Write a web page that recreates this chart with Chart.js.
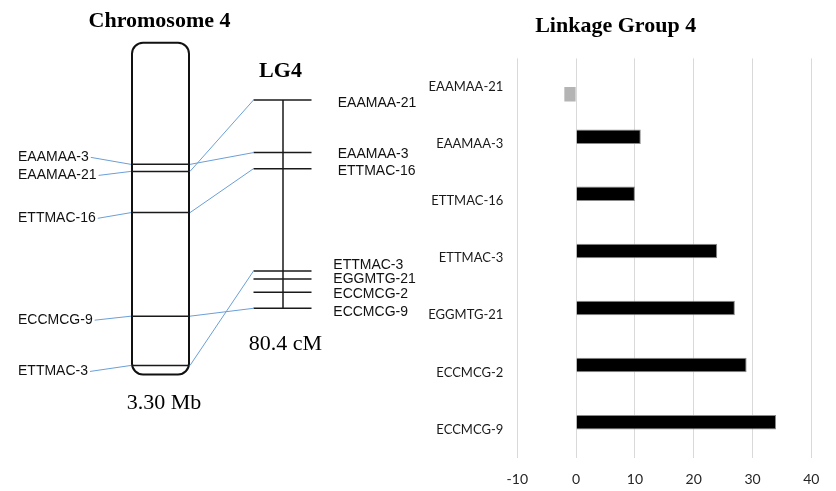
<!DOCTYPE html>
<html>
<head>
<meta charset="utf-8">
<script src="https://cdn.jsdelivr.net/npm/chart.js@4/dist/chart.umd.min.js"></script>
<style>
  html, body { margin: 0; padding: 0; background: #ffffff; }
  #wrap { position: relative; width: 836px; height: 491px; overflow: hidden; }
  canvas { position: absolute; top: 0; }
  #mapCanvas { left: 0; }
  #barCanvas { left: 420px; }
</style>
</head>
<body>
<div id="wrap">
  <canvas id="mapCanvas" width="420" height="491"></canvas>
  <canvas id="barCanvas" width="416" height="491"></canvas>
</div>
<script>
// Physical map of chromosome 4 (positions in Mb)
const chrLengthMb = 3.30;
const chrMarkers = ['EAAMAA-3', 'EAAMAA-21', 'ETTMAC-16', 'ECCMCG-9', 'ETTMAC-3'];
const chrPositionsMb = [1.21, 1.28, 1.69, 2.72, 3.21];

// Genetic map of linkage group 4 (positions in cM)
const lgLengthCM = 80.4;
const lgMarkers = ['EAAMAA-21', 'EAAMAA-3', 'ETTMAC-16', 'ETTMAC-3', 'EGGMTG-21', 'ECCMCG-2', 'ECCMCG-9'];
const lgPositionsCM = [0, 20.3, 26.5, 66.0, 69.1, 74.2, 80.4];

// Bar chart: linkage group 4 markers
const barCategories = ['EAAMAA-21', 'EAAMAA-3', 'ETTMAC-16', 'ETTMAC-3', 'EGGMTG-21', 'ECCMCG-2', 'ECCMCG-9'];
const barValues = [null, 11, 10, 24, 27, 29, 34];
const barNegValues = [-2, null, null, null, null, null, null];
const barTicks = [-10, 0, 10, 20, 30, 40];

// ---- layout of the map panel (canvas pixels) ----
const MAP = {
  width: 420, height: 491,
  chrLeft: 132, chrRight: 189, chrTopPx: 42.7, chrBottomPx: 374.5, chrRadius: 11,
  lgLeft: 253.5, lgRight: 311.5, lgAxis: 283, lgTopPx: 100, lgBottomPx: 308.3,
  chrLabelX: 18,
  chrLabelNudge: [-8, 3, 4.7, 3, 5],
  lgLabelX: [337.7, 337.7, 337.7, 333.3, 333.3, 333.3, 333.3],
  lgLabelNudge: [2, 0.5, 1.5, -7, -0.7, 0.5, 2.5]
};
const LINK_BLUE = '#6a9fd8';
const LABEL_FONT = '14px "Liberation Sans", Arial, sans-serif';
const SERIF = '"Liberation Serif", "Times New Roman", serif';

// range for a hidden reversed y scale so that 0 and `length` land on p0 / p1
function scaleRange(p0, p1, length, height) {
  const k = (p1 - p0) / length;
  const min = -p0 / k;
  return { min: min, max: min + height / k };
}
const mbRange = scaleRange(MAP.chrTopPx, MAP.chrBottomPx, chrLengthMb, MAP.height);
const cmRange = scaleRange(MAP.lgTopPx, MAP.lgBottomPx, lgLengthCM, MAP.height);

function segment(x0, x1, y0, y1, axis, color, width) {
  return {
    data: [{ x: x0, y: y0 }, { x: x1, y: y1 }],
    yAxisID: axis, showLine: true, pointRadius: 0,
    borderColor: color, borderWidth: width, fill: false
  };
}

const mapDatasets = [];
chrPositionsMb.forEach(p => mapDatasets.push(segment(MAP.chrLeft, MAP.chrRight, p, p, 'yMb', '#1a1a1a', 1.5)));
mapDatasets.push(segment(MAP.lgAxis, MAP.lgAxis, 0, lgLengthCM, 'ycM', '#1a1a1a', 1.5));
lgPositionsCM.forEach(p => mapDatasets.push(segment(MAP.lgLeft, MAP.lgRight, p, p, 'ycM', '#1a1a1a', 1.5)));

const mapDecor = {
  id: 'mapDecor',
  beforeDatasetsDraw(chart) {
    const ctx = chart.ctx;
    const yMb = chart.scales.yMb;
    const top = yMb.getPixelForValue(0);
    const bottom = yMb.getPixelForValue(chrLengthMb);
    ctx.save();
    ctx.beginPath();
    ctx.roundRect(MAP.chrLeft, top, MAP.chrRight - MAP.chrLeft, bottom - top, MAP.chrRadius);
    ctx.lineWidth = 2;
    ctx.strokeStyle = '#111';
    ctx.stroke();
    ctx.restore();
  },
  afterDatasetsDraw(chart) {
    const ctx = chart.ctx;
    const yMb = chart.scales.yMb;
    const ycM = chart.scales.ycM;
    ctx.save();

    // chromosome marker labels + leader lines
    ctx.font = LABEL_FONT;
    ctx.fillStyle = '#111';
    ctx.textAlign = 'left';
    ctx.textBaseline = 'alphabetic';
    chrMarkers.forEach((name, i) => {
      const py = yMb.getPixelForValue(chrPositionsMb[i]);
      const ly = py + MAP.chrLabelNudge[i];
      ctx.fillText(name, MAP.chrLabelX, ly + 5);
      const w = ctx.measureText(name).width;
      ctx.beginPath();
      ctx.moveTo(MAP.chrLabelX + w + 2, ly + 1);
      ctx.lineTo(MAP.chrLeft - 1, py);
      ctx.strokeStyle = LINK_BLUE;
      ctx.lineWidth = 1;
      ctx.stroke();
    });

    // linkage group labels
    lgMarkers.forEach((name, i) => {
      const py = ycM.getPixelForValue(lgPositionsCM[i]);
      ctx.fillStyle = '#111';
      ctx.fillText(name, MAP.lgLabelX[i], py + MAP.lgLabelNudge[i] + 5);
    });

    // chromosome ↔ linkage group connections
    ctx.strokeStyle = LINK_BLUE;
    ctx.lineWidth = 1;
    chrMarkers.forEach((name, i) => {
      const j = lgMarkers.indexOf(name);
      if (j < 0) return;
      ctx.beginPath();
      ctx.moveTo(MAP.chrRight + 1, yMb.getPixelForValue(chrPositionsMb[i]));
      ctx.lineTo(MAP.lgLeft, ycM.getPixelForValue(lgPositionsCM[j]));
      ctx.stroke();
    });

    // headings and lengths
    ctx.fillStyle = '#000';
    ctx.textAlign = 'center';
    ctx.font = 'bold 22px ' + SERIF;
    ctx.fillText('Chromosome 4', 159.5, 26.5);
    ctx.fillText('LG4', 280.5, 76.7);
    ctx.font = '22px ' + SERIF;
    ctx.fillText(lgLengthCM.toFixed(1) + ' cM', 285.5, 350);
    ctx.fillText(chrLengthMb.toFixed(2) + ' Mb', 164, 409.3);
    ctx.restore();
  }
};

new Chart(document.getElementById('mapCanvas'), {
  type: 'scatter',
  data: { datasets: mapDatasets },
  options: {
    responsive: false,
    animation: false,
    events: [],
    layout: { padding: 0 },
    plugins: { legend: { display: false }, tooltip: { enabled: false } },
    scales: {
      x: { type: 'linear', display: false, min: 0, max: MAP.width },
      yMb: { type: 'linear', display: false, reverse: true, min: mbRange.min, max: mbRange.max },
      ycM: { type: 'linear', display: false, reverse: true, min: cmRange.min, max: cmRange.max }
    }
  },
  plugins: [mapDecor]
});

// ---- bar chart ----
const LATO = 'Lato, "Open Sans", sans-serif';
new Chart(document.getElementById('barCanvas'), {
  type: 'bar',
  data: {
    labels: barCategories,
    datasets: [
      {
        data: barValues,
        backgroundColor: '#000000',
        borderColor: '#8a8a8a',
        borderWidth: 1,
        categoryPercentage: 0.51,
        barPercentage: 1
      },
      {
        data: barNegValues,
        backgroundColor: '#b4b4b4',
        borderWidth: 0,
        categoryPercentage: 0.51,
        barPercentage: 1
      }
    ]
  },
  options: {
    indexAxis: 'y',
    responsive: false,
    animation: false,
    events: [],
    layout: { padding: { left: 0, right: 24.7, top: 0, bottom: 0 } },
    plugins: {
      legend: { display: false },
      tooltip: { enabled: false },
      title: {
        display: true,
        text: 'Linkage Group 4',
        color: '#000',
        font: { family: SERIF, size: 22, weight: 'bold' },
        padding: { top: 13, bottom: 19 }
      }
    },
    scales: {
      x: {
        type: 'linear',
        min: -10,
        max: 40,
        afterBuildTicks: s => { s.ticks = barTicks.map(v => ({ value: v })); },
        grid: { color: '#d9d9d9', lineWidth: 1, drawTicks: false },
        border: { display: false },
        ticks: { padding: 13, color: '#262626', font: { family: LATO, size: 14 } },
        afterFit: s => { s.height = 33; }
      },
      y: {
        grid: { display: false, drawTicks: false },
        border: { display: false },
        ticks: { padding: 14, color: '#1a1a1a', font: { family: LATO, size: 13 } },
        afterFit: s => { s.width = 97.3; }
      }
    }
  }
});
</script>
</body>
</html>
